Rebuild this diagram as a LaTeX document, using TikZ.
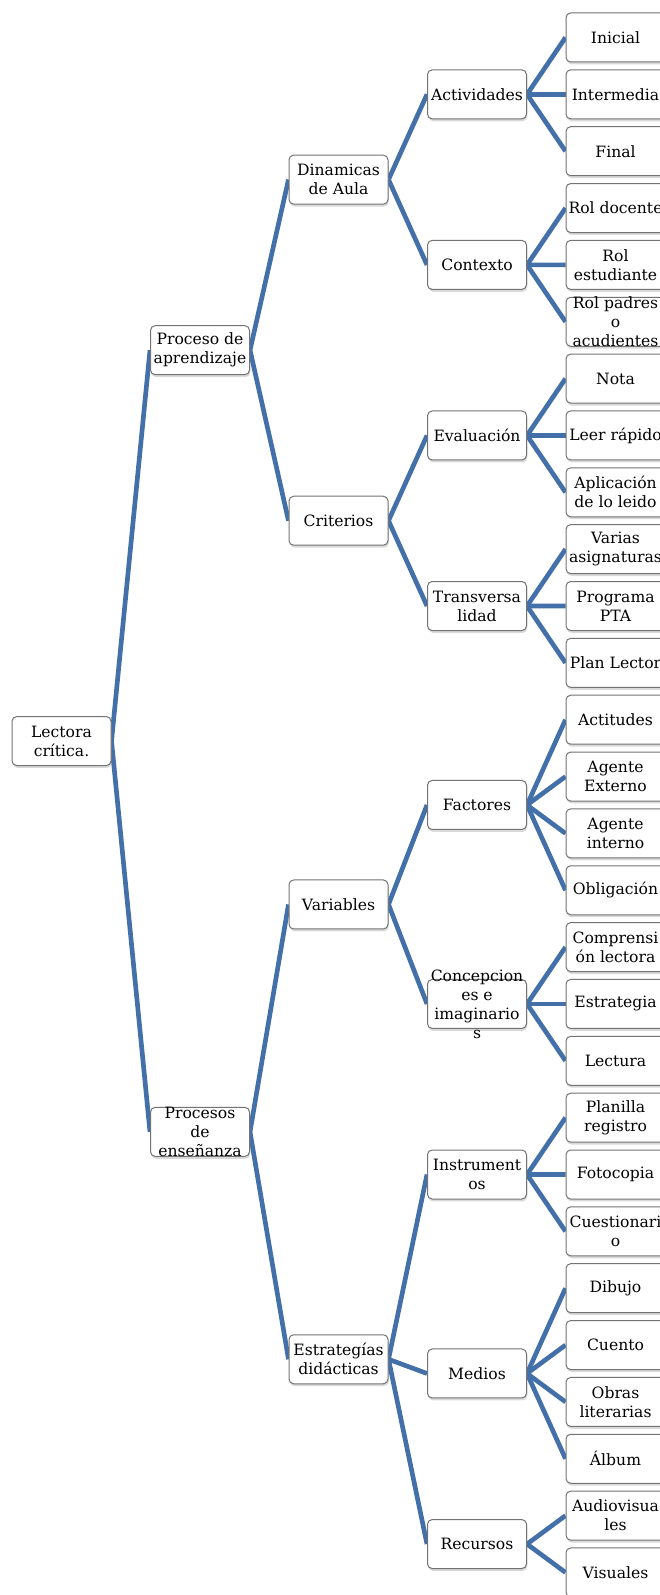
\documentclass[tikz,border=0pt]{standalone}
\usepackage{fontspec}
\setmainfont{DejaVu Serif}
\usetikzlibrary{positioning,calc,shadows,backgrounds}

\definecolor{azulrama}{RGB}{68,112,170}
\definecolor{grisborde}{RGB}{115,115,115}

\begin{document}
\begin{tikzpicture}[x=0.75pt,y=-0.75pt,
    caja/.style={draw=grisborde, line width=0.75pt, rounded corners=3.5pt, fill=white,
        minimum width=74.25pt, minimum height=36.75pt, inner sep=1pt, align=center,
        font=\fontsize{11.7}{14.25}\selectfont,
        drop shadow={shadow xshift=0.6pt, shadow yshift=-1.8pt, opacity=0.3}},
    texto/.style={align=center, inner sep=0pt, font=\fontsize{11.7}{14.25}\selectfont},
    rama/.style={draw=azulrama, line width=3.5pt}]

    \useasboundingbox (0,0) rectangle (660,1595);

    % Hojas
    \foreach \nom/\txt [count=\i from 0] in {ini/Inicial, int/Intermedia, fin/Final,
        doc/Rol docente, est/{Rol\\estudiante}, pad/{},
        nota/Nota, leer/Leer rápido, apl/{Aplicación\\de lo leido},
        var/{Varias\\asignaturas}, pta/{Programa\\PTA}, plan/Plan Lector,
        act/Actitudes, aext/{Agente\\Externo}, aint/{Agente\\interno}, obl/Obligación,
        comp/{Comprensi\\ón lectora}, estr/Estrategia, lect/Lectura,
        pla/{Planilla\\registro}, foto/Fotocopia, cues/{Cuestionari\\o},
        dib/Dibujo, cue/Cuento, obr/{Obras\\literarias}, alb/Álbum,
        aud/{Audiovisua\\les}, vis/Visuales} {
        \node[caja] (\nom) at (615.5,{37.5+56.85*\i}) {\txt};
    }
    \node[texto] (padt) at (pad) {Rol padres\\o\\acudientes};

    % Cuarto nivel
    \node[caja] (acti) at ($(ini)!.5!(fin)+(-138.5,0)$) {Actividades};
    \node[caja] (cont) at ($(doc)!.5!(pad)+(-138.5,0)$) {Contexto};
    \node[caja] (eval) at ($(nota)!.5!(apl)+(-138.5,0)$) {Evaluación};
    \node[caja] (tran) at ($(var)!.5!(plan)+(-138.5,0)$) {Transversa\\lidad};
    \node[caja] (fact) at ($(act)!.5!(obl)+(-138.5,0)$) {Factores};
    \node[caja] (conc) at ($(comp)!.5!(lect)+(-138.5,0)$) {};
    \node[texto] (conct) at (conc) {Concepcion\\es e\\imaginario\\s};
    \node[caja] (inst) at ($(pla)!.5!(cues)+(-138.5,0)$) {Instrument\\os};
    \node[caja] (med) at ($(dib)!.5!(alb)+(-138.5,0)$) {Medios};
    \node[caja] (rec) at ($(aud)!.5!(vis)+(-138.5,0)$) {Recursos};

    % Tercer nivel
    \node[caja] (din) at ($(acti)!.5!(cont)+(-138.5,0)$) {Dinamicas\\de Aula};
    \node[caja] (cri) at ($(eval)!.5!(tran)+(-138.5,0)$) {Criterios};
    \node[caja] (vari) at ($(fact)!.5!(conc)+(-138.5,0)$) {Variables};
    \node[caja] (estd) at ($(inst)!.5!(rec)+(-138.5,0)$) {Estrategías\\didácticas};

    % Segundo nivel
    \node[caja] (apr) at ($(din)!.5!(cri)+(-138.5,0)$) {Proceso de\\aprendizaje};
    \node[caja] (ens) at ($(vari)!.5!(estd)+(-138.5,0)$) {};
    \node[texto] (enst) at (ens) {Procesos\\de\\enseñanza};

    % Raiz
    \node[caja] (lec) at ($(apr)!.5!(ens)+(-138.5,0)$) {Lectora\\crítica.};

    % Ramas
    \begin{scope}[on background layer]
    \foreach \a/\b in {lec/apr, lec/ens, apr/din, apr/cri, ens/vari, ens/estd,
        din/acti, din/cont, cri/eval, cri/tran, vari/fact, vari/conc,
        estd/inst, estd/med, estd/rec,
        acti/ini, acti/int, acti/fin, cont/doc, cont/est, cont/pad,
        eval/nota, eval/leer, eval/apl, tran/var, tran/pta, tran/plan,
        fact/act, fact/aext, fact/aint, fact/obl, conc/comp, conc/estr, conc/lect,
        inst/pla, inst/foto, inst/cues, med/dib, med/cue, med/obr, med/alb,
        rec/aud, rec/vis}
        \draw[rama] (\a.east) -- (\b.west);
    \end{scope}
\end{tikzpicture}
\end{document}
